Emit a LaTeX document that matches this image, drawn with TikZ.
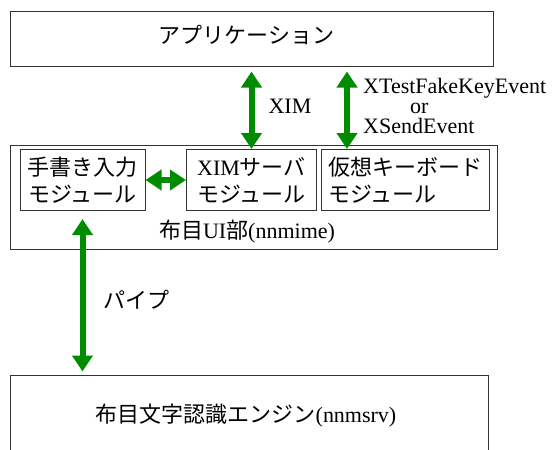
\documentclass[tikz,border=0pt]{standalone}
\usepackage{fontspec}
\setmainfont{Liberation Serif}
\newfontfamily\jp{Noto Sans CJK JP}
\usetikzlibrary{arrows.meta}
\definecolor{arrgreen}{RGB}{0,140,0}
\begin{document}
\begin{tikzpicture}[x=1pt,y=-1pt,
  box/.style={draw=black!80, line width=1pt, inner sep=0pt},
  garrow/.style={draw=arrgreen, line width=6pt, {Triangle[width=20pt,length=16pt]}-{Triangle[width=20pt,length=16pt]}},
  txt/.style={font=\fontsize{22}{27}\selectfont, inner sep=0pt}]
\useasboundingbox (0,0) rectangle (552,450);
\clip (0,0) rectangle (552,450);
% boxes
\node[box, minimum width=483pt, minimum height=55pt] (app) at (251.5,38.5) {};
\node[txt] (apptext) at (246.5,35) {\jp アプリケーション};
\node[box, minimum width=487pt, minimum height=104pt] (ui) at (253.5,197) {};
\node[box, txt, align=center, minimum width=125pt, minimum height=61pt] (hw) at (82.5,180) {\jp 手書き入力\\\jp モジュール};
\node[box, txt, align=center, minimum width=130pt, minimum height=61pt] (ximsv) at (251.5,180) {XIM{\jp サーバ}\\\jp モジュール};
\node[box, txt, align=left, minimum width=168pt, minimum height=61pt] (vkb) at (405,180) {\jp 仮想キーボード\\\jp モジュール};
\node[txt] (uilabel) at (247,232) {{\jp 布目}UI{\jp 部}(nnmime)};
\node[box, minimum width=478pt, minimum height=80pt] (engine) at (249,415) {};
\node[txt] (enginetext) at (246,416) {{\jp 布目文字認識エンジン}(nnmsrv)};
% arrows
\coordinate (a1) at ([yshift=-5pt]app.south);
\coordinate (k) at (347,0);
\draw[garrow] (a1 -| ximsv.north) -- (ximsv.north);
\draw[garrow] (a1 -| k) -- (vkb.north -| k);
\draw[garrow] (hw.east) -- (ximsv.west);
\coordinate (p1) at ([yshift=-8pt]hw.south);
\coordinate (p2) at ([yshift=3pt]engine.north);
\draw[garrow] (p1) -- (p2 -| p1);
% labels
\node[txt] (ximlabel) at (290,106) {XIM};
\node[txt, font=\fontsize{22}{20}\selectfont, align=left, anchor=west] (xtest) at (363,106) {XTestFakeKeyEvent\\\hspace*{47pt}or\\XSendEvent};
\node[txt] (pipe) at (136,300) {\jp パイプ};
\end{tikzpicture}
\end{document}
